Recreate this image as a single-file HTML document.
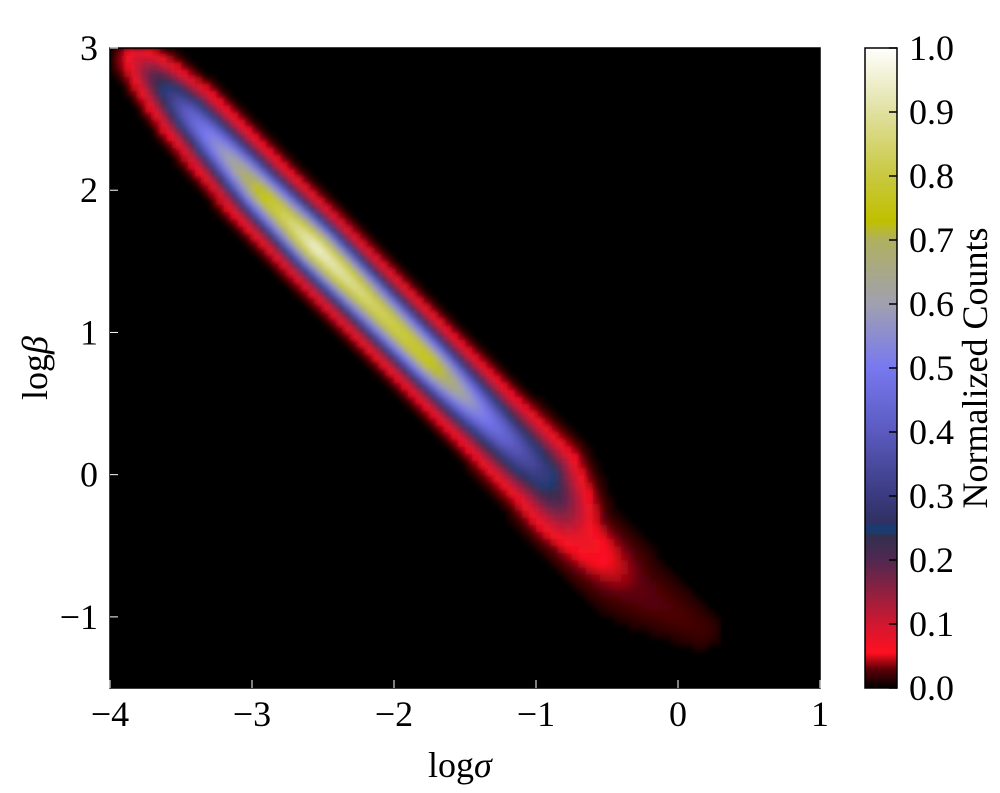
<!DOCTYPE html>
<html><head><meta charset="utf-8"><style>
body{margin:0;background:#fff;}
svg text{font-family:"Liberation Serif",serif;fill:#000;}
</style></head><body>
<svg id="chart" width="1000" height="788" viewBox="0 0 1000 788">
<defs>
<filter id="blur" x="0" y="0" width="1" height="1"><feGaussianBlur stdDeviation="3"/></filter>
<linearGradient id="cbgrad" x1="0" y1="1" x2="0" y2="0">
<stop offset="0" stop-color="#000"/><stop offset="0.03" stop-color="#600008"/>
<stop offset="0.055" stop-color="#ff1020"/><stop offset="0.1" stop-color="#d01830"/>
<stop offset="0.2" stop-color="#502850"/><stop offset="0.24" stop-color="#303050"/>
<stop offset="0.241" stop-color="#1a3a70"/><stop offset="0.255" stop-color="#1a3a70"/>
<stop offset="0.256" stop-color="#303060"/><stop offset="0.3" stop-color="#3a3a80"/>
<stop offset="0.4" stop-color="#5a5ac0"/><stop offset="0.5" stop-color="#7878f0"/>
<stop offset="0.6" stop-color="#a0a0b0"/><stop offset="0.7" stop-color="#b0b060"/>
<stop offset="0.73" stop-color="#c0c000"/><stop offset="0.8" stop-color="#c8c840"/>
<stop offset="0.9" stop-color="#e0e0a0"/><stop offset="1" stop-color="#ffffff"/>
</linearGradient>
<clipPath id="plotclip"><rect x="110" y="48" width="710" height="640"/></clipPath>
</defs>
<rect x="110" y="48" width="710" height="640" fill="#000"/>
<g id="cells" clip-path="url(#plotclip)" filter="url(#blur)"></g>
<rect x="110" y="48" width="710" height="640" fill="none" stroke="#000" stroke-width="1.5"/>
<g id="axes"></g>
<rect x="865" y="48" width="32" height="640" fill="url(#cbgrad)" stroke="#000" stroke-width="1.5"/>
<g id="cbticks"></g>
<text x="428" y="777" font-size="36">log<tspan font-style="italic">σ</tspan></text>
<text transform="translate(47,368) rotate(-90)" text-anchor="middle" font-size="36">log<tspan font-style="italic">β</tspan></text>
<text transform="translate(987,368) rotate(-90)" text-anchor="middle" font-size="36">Normalized Counts</text>
</svg>
<script>
const ridgeX = [-3.8, -3.45, -2.95, -2.55, -2.15, -1.75, -1.35, -0.95, -0.7, -0.3, 0.15];
const ridgeY = [2.92, 2.55, 2.0, 1.6, 1.2, 0.8, 0.4, 0.0, -0.42, -0.8, -1.08];
const ridgePeak = [0.1, 0.42, 0.75, 0.95, 0.85, 0.78, 0.5, 0.3, 0.08, 0.03, 0.02];
const ridgeWidth = [0.09, 0.105, 0.11, 0.11, 0.11, 0.11, 0.12, 0.14, 0.14, 0.17, 0.12];
const xTicks = [-4, -3, -2, -1, 0, 1];
const yTicks = [-1, 0, 1, 2, 3];
const cbTicks = [0.0, 0.1, 0.2, 0.3, 0.4, 0.5, 0.6, 0.7, 0.8, 0.9, 1.0];

const X0=110,X1=820,Y0=688,Y1=48;
const xs=v=>X0+(v+4)/5*(X1-X0);
const ys=v=>Y0-(v+1.5)/4.5*(Y0-Y1);
const cmapStops=[[0,[0,0,0]],[0.03,[96,0,8]],[0.055,[255,16,32]],[0.1,[208,24,48]],[0.2,[80,40,80]],[0.24,[48,48,80]],[0.25,[26,58,112]],[0.3,[58,58,128]],[0.4,[90,90,192]],[0.5,[120,120,240]],[0.6,[160,160,176]],[0.7,[176,176,96]],[0.73,[192,192,0]],[0.8,[200,200,64]],[0.9,[224,224,160]],[1,[255,255,255]]];
function cmap(v){v=Math.max(0,Math.min(1,v));for(let i=1;i<cmapStops.length;i++){const[a,ca]=cmapStops[i-1],[b,cb]=cmapStops[i];if(v<=b){const t=(v-a)/(b-a||1);return 'rgb('+ca.map((c,k)=>Math.round(c+(cb[k]-c)*t)).join(',')+')';}}return '#fff';}
function density(x,y){let best=0;for(let i=0;i<ridgeX.length-1;i++){const ax=ridgeX[i],ay=ridgeY[i],bx=ridgeX[i+1],by=ridgeY[i+1];const dx=bx-ax,dy=by-ay;let t=((x-ax)*dx+(y-ay)*dy)/(dx*dx+dy*dy);t=Math.max(0,Math.min(1,t));const px=ax+t*dx,py=ay+t*dy;const d2=(x-px)**2+(y-py)**2;const p=ridgePeak[i]+(ridgePeak[i+1]-ridgePeak[i])*t;const s=ridgeWidth[i]+(ridgeWidth[i+1]-ridgeWidth[i])*t;const v=p*Math.exp(-d2/(2*s*s));if(v>best)best=v;}return best;}
const NS='http://www.w3.org/2000/svg';
const cells=document.getElementById('cells');
const step=0.05;
for(let gx=-4;gx<1-1e-9;gx+=step){for(let gy=-1.5;gy<3-1e-9;gy+=step){const v=density(gx+step/2,gy+step/2);if(v<0.008)continue;const r=document.createElementNS(NS,'rect');r.setAttribute('x',xs(gx));r.setAttribute('y',ys(gy+step));r.setAttribute('width',xs(gx+step)-xs(gx)+0.5);r.setAttribute('height',ys(gy)-ys(gy+step)+0.5);r.setAttribute('fill',cmap(v));


cells.appendChild(r);}}
const axes=document.getElementById('axes');
function mk(tag,attrs,text){const e=document.createElementNS(NS,tag);for(const k in attrs)e.setAttribute(k,attrs[k]);if(text!==undefined)e.textContent=text;return e;}
const fmt=v=>(v<0?'\u2212':'')+Math.abs(v);
xTicks.forEach(v=>{const x=xs(v);
const t1=mk('line',{x1:x,x2:x,y1:Y0,y2:Y0-8,stroke:'#fff','stroke-width':1});


axes.appendChild(t1);
const l=mk('text',{x:x,y:726,'text-anchor':'middle','font-size':36},fmt(v));


axes.appendChild(l);});
yTicks.forEach(v=>{const y=ys(v);
const t1=mk('line',{x1:X0,x2:X0+8,y1:y,y2:y,stroke:'#fff','stroke-width':1});


axes.appendChild(t1);
const l=mk('text',{x:98,y:y+12,'text-anchor':'end','font-size':36},fmt(v));


axes.appendChild(l);});
const cbg=document.getElementById('cbticks');
cbTicks.forEach(v=>{const y=688-v*640;
const t1=mk('line',{x1:889,x2:897,y1:y,y2:y,stroke:'#000','stroke-width':1.5});


cbg.appendChild(t1);
const l=mk('text',{x:909,y:y+12,'font-size':36},v.toFixed(1));


cbg.appendChild(l);});
</script>
</body></html>
